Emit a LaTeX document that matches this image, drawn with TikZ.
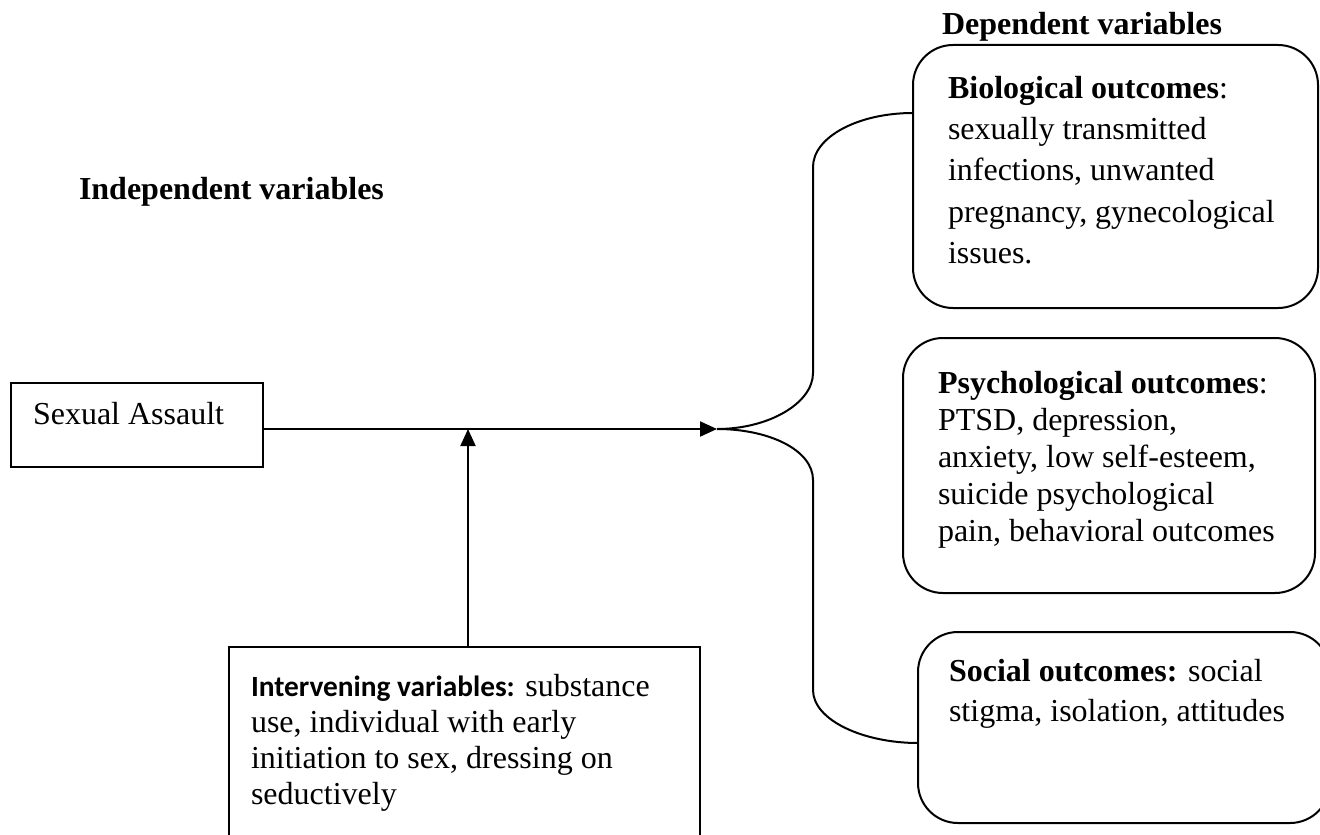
\documentclass[tikz,border=0pt]{standalone}
\usepackage{fontspec}
\setmainfont{Liberation Serif}
\newfontfamily\calibri{Carlito}
\usetikzlibrary{positioning,calc,arrows.meta}
\tikzset{>={Triangle[length=8.5pt,width=7.5pt]}}
\tikzset{
  sqbox/.style={draw,line width=1pt,outer sep=0pt,anchor=north west},
  rbox/.style={sqbox,rounded corners=20pt},
  txt/.style={inner sep=0pt,align=left,anchor=north west},
  head/.style={inner sep=0pt,anchor=base west,font=\fontsize{16}{18}\selectfont\bfseries}
}
\newcommand\firstline{\rule{0pt}{12pt}}

\begin{document}
\begin{tikzpicture}[x=0.5pt,y=-0.5pt,line width=1pt]
\useasboundingbox (0,0) rectangle (1320,834);
\clip (0,0) rectangle (1320,834);
% headings
\node[head] (dep) at (941,35) {Dependent variables};
\node[head] (indep) at (78,199) {Independent variables};
% boxes
\node[sqbox,minimum width=126pt,minimum height=42pt] (sa) at (11,383) {};
\node[sqbox,minimum width=235.5pt,minimum height=115pt] (interv) at (229,647) {};
\node[rbox,minimum width=202.5pt,minimum height=131.5pt] (bio) at (913,45) {};
\node[rbox,minimum width=206pt,minimum height=127.5pt] (psy) at (903,338) {};
\node[rbox,minimum width=206pt,minimum height=95.5pt] (soc) at (918,632) {};
% texts
\node[txt,font=\fontsize{16}{18}\selectfont,below right=8pt and 10.5pt of sa.north west] (satext) {\firstline Sexual Assault};
\node[txt,font=\fontsize{16}{18}\selectfont,below right=12pt and 10.5pt of interv.north west] (intervtext)
  {\firstline{\calibri\fontsize{14.67}{18}\selectfont\bfseries Intervening variables:} substance\\
   use, individual with early\\ initiation to sex, dressing on\\ seductively};
\node[txt,font=\fontsize{16}{20.5}\selectfont,below right=14.5pt and 17pt of bio.north west] (biotext)
  {\firstline\textbf{Biological outcomes}:\\ sexually transmitted\\ infections, unwanted\\
   pregnancy, gynecological\\ issues.};
\node[txt,font=\fontsize{16}{18.5}\selectfont,below right=15pt and 17pt of psy.north west] (psytext)
  {\firstline\textbf{Psychological outcomes}:\\ PTSD, depression,\\ anxiety, low self-esteem,\\
   suicide psychological\\ pain, behavioral outcomes};
\node[txt,font=\fontsize{16}{20}\selectfont,below right=12pt and 15pt of soc.north west] (soctext)
  {\firstline\textbf{Social outcomes:} social\\ stigma, isolation, attitudes};
% connectors
\coordinate (hub) at (717,429);
\coordinate (ivtop) at ([xshift=1.75pt]interv.north);
\coordinate (biojoin) at ([yshift=-34pt]bio.north west);
\coordinate (socjoin) at ([yshift=-55.5pt]soc.north west);
\draw[->] (sa.east |- hub) -- (hub);
\draw[->] (ivtop) -- (ivtop |- hub);
\draw (hub) .. controls (769,429) and (813,403) .. (813,373) -- (813,167)
  .. controls (813,137) and (858,113) .. (biojoin);
\draw (hub) .. controls (769,429) and (813,450) .. (813,480) -- (813,690)
  .. controls (813,720) and (863,743) .. (socjoin);
\end{tikzpicture}
\end{document}
